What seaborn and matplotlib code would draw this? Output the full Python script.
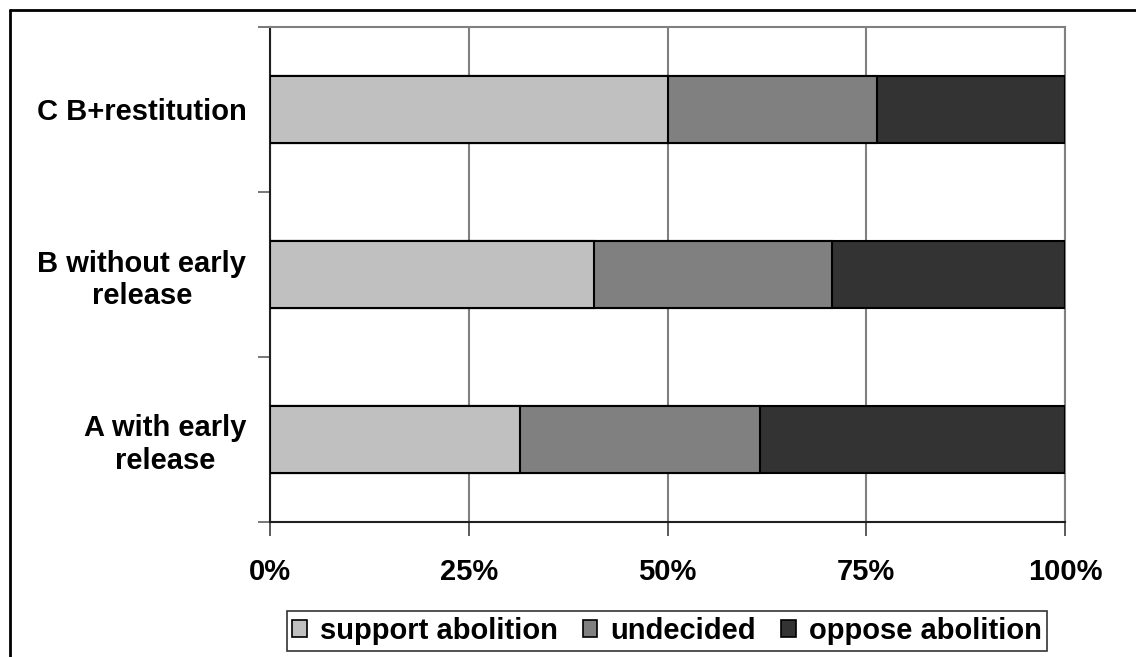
import matplotlib
matplotlib.use("Agg")
import matplotlib.pyplot as plt
from matplotlib.lines import Line2D
from matplotlib.patches import Patch
from matplotlib.ticker import PercentFormatter, FixedLocator
import numpy as np
import pandas as pd
import seaborn as sns

# Survey scenarios (top to bottom) and response shares in percent
scenarios = ["C B+restitution", "B without early\nrelease", "A with early\nrelease"]
support = [50.0, 40.8, 31.4]
undecided = [26.3, 29.9, 30.2]
oppose = [23.7, 29.3, 38.4]

series_names = ["support abolition", "undecided", "oppose abolition"]
series_colors = ["#C0C0C0", "#808080", "#333333"]

sns.set_style("white")
plt.rcParams["font.family"] = ["Liberation Sans", "DejaVu Sans"]
plt.rcParams["font.weight"] = "bold"
plt.rcParams["text.color"] = "black"

df = pd.DataFrame({
    "scenario": scenarios,
    "support": support,
    "undecided": undecided,
    "oppose": oppose,
})
df["cum_support"] = df["support"]
df["cum_undecided"] = df["support"] + df["undecided"]
df["cum_total"] = df["cum_undecided"] + df["oppose"]

W, H = 1136, 657
fig = plt.figure(figsize=(W / 100, H / 100), dpi=100)
ax = fig.add_axes([270 / W, 1 - 522 / H, (1065 - 270) / W, (522 - 27) / H])

# Stacked bars: draw cumulative totals back to front
bar_kw = dict(orient="h", order=scenarios, width=0.41, edgecolor="black",
              linewidth=1.5, errorbar=None, ax=ax, zorder=3)
sns.barplot(data=df, x="cum_total", y="scenario", color=series_colors[2], **bar_kw)
sns.barplot(data=df, x="cum_undecided", y="scenario", color=series_colors[1], **bar_kw)
sns.barplot(data=df, x="cum_support", y="scenario", color=series_colors[0], **bar_kw)
for p in ax.patches:
    p.set_facecolor(p.get_facecolor()[:3])
    p.set_alpha(1)

ax.set_xlim(0, 100)
ax.set_ylim(2.5, -0.5)
ax.set_xlabel("")
ax.set_ylabel("")

# x axis: percent ticks with vertical gridlines
ax.set_xticks([0, 25, 50, 75, 100])
ax.xaxis.set_major_formatter(PercentFormatter(decimals=0))
ax.grid(axis="x", color="#808080", linewidth=1.5, zorder=0)
ax.set_axisbelow(True)
ax.tick_params(axis="x", which="major", direction="out", length=10, width=1.2,
               color="#404040", pad=16, labelsize=21, labelcolor="black", bottom=True)

# y axis: category labels without ticks, small ticks between categories
ax.yaxis.set_minor_locator(FixedLocator([-0.5, 0.5, 1.5, 2.5]))
ax.tick_params(axis="y", which="major", length=0, pad=17, labelsize=21, labelcolor="black")
ax.tick_params(axis="y", which="minor", direction="out", length=9, width=1.2,
               color="#606060", left=True)
for t in ax.get_yticklabels():
    t.set_multialignment("center")
    t.set_fontweight("bold")
for t in ax.get_xticklabels():
    t.set_fontweight("bold")

for side in ["left", "bottom"]:
    ax.spines[side].set_color("#202020")
    ax.spines[side].set_linewidth(1.5)
for side in ["top", "right"]:
    ax.spines[side].set_color("#808080")
    ax.spines[side].set_linewidth(1.5)

handles = [Patch(facecolor=c, edgecolor="black", linewidth=1.2) for c in series_colors]
leg = fig.legend(handles, series_names, loc="center", bbox_to_anchor=(667 / W, 1 - 631 / H),
                 ncol=3, frameon=True, fancybox=False, edgecolor="black",
                 prop={"size": 21, "weight": "bold"}, handlelength=0.5, handleheight=0.5,
                 handletextpad=0.45, columnspacing=0.85, borderpad=0.2, borderaxespad=0)
leg.get_frame().set_linewidth(1.2)
for t in leg.get_texts():
    t.set_color("black")

# Outer chart frame (top and left edges visible)
fig.add_artist(Line2D([10 / W, 10 / W], [0, 1 - 10 / H], transform=fig.transFigure,
                      color="black", linewidth=2))
fig.add_artist(Line2D([10 / W, 1], [1 - 10 / H, 1 - 10 / H], transform=fig.transFigure,
                      color="black", linewidth=2))

fig.savefig("out.png", dpi=100)
